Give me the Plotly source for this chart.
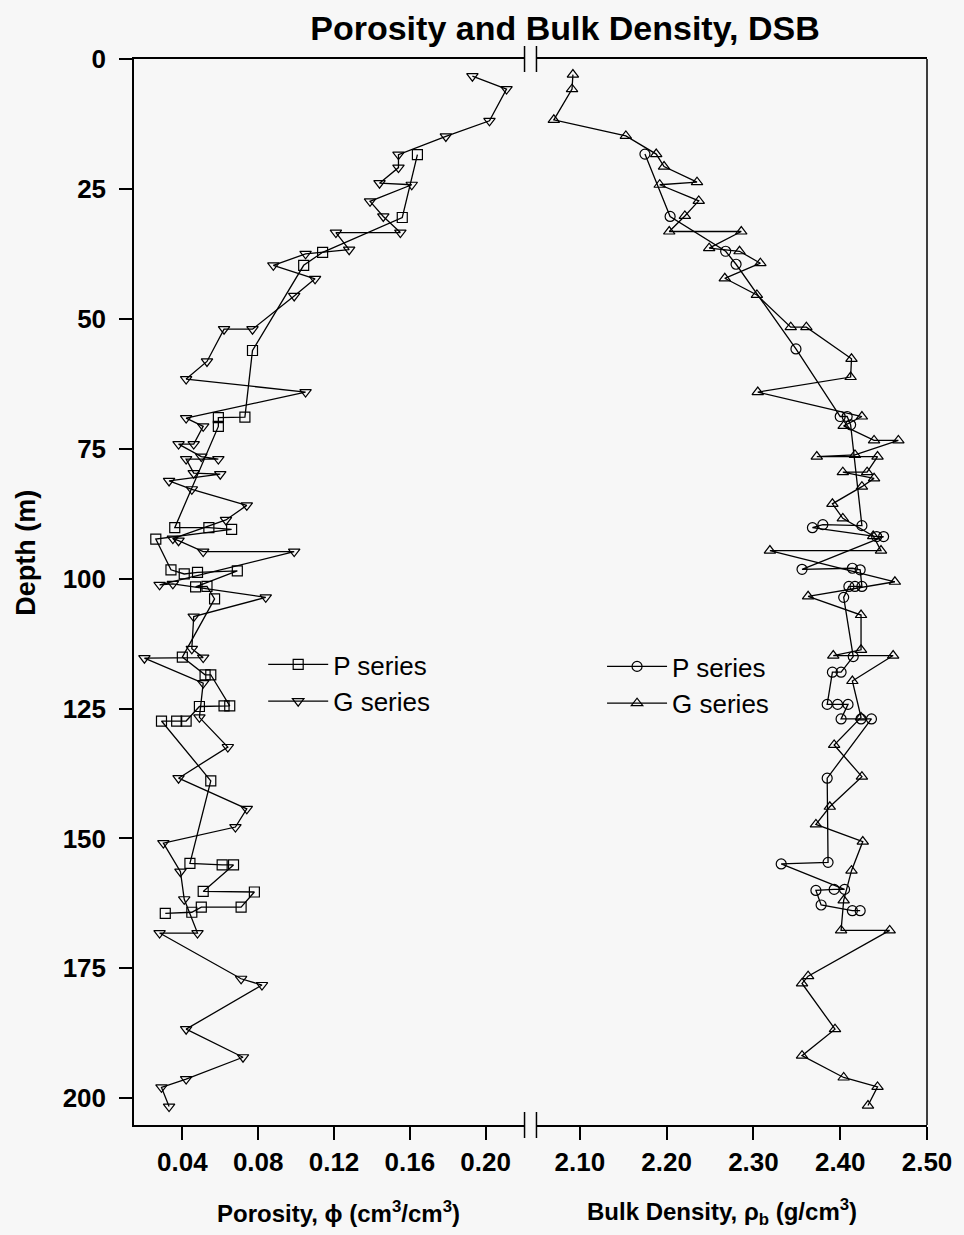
import plotly.graph_objects as go

# ---------------- data ----------------
# Porosity panel, P series
depth_phi_P = [18.4, 30.5, 37.2, 39.7, 56.1, 68.9, 69.0, 70.7, 90.2, 90.2, 90.5, 92.4,
               98.3, 99.1, 98.8, 98.5, 101.6, 101.5, 103.9, 115.1, 118.5, 118.5, 124.5,
               124.5, 124.6, 127.4, 127.4, 127.4, 138.9, 154.8, 155.1, 155.1, 160.2,
               160.3, 163.2, 163.2, 164.2, 164.4]
phi_P = [0.164, 0.156, 0.114, 0.104, 0.077, 0.073, 0.059, 0.059, 0.036, 0.054, 0.066, 0.026,
         0.034, 0.041, 0.048, 0.069, 0.047, 0.053, 0.057, 0.040, 0.052, 0.055, 0.065,
         0.062, 0.049, 0.042, 0.037, 0.029, 0.055, 0.044, 0.061, 0.067, 0.051,
         0.078, 0.071, 0.050, 0.045, 0.031]

# Porosity panel, G series
depth_phi_G = [3.3, 5.8, 11.9, 14.9, 18.4, 20.9, 23.9, 24.2, 27.4, 30.3, 33.4, 33.4, 36.7,
               37.5, 39.7, 42.3, 45.6, 52.0, 52.0, 58.2, 61.6, 64.1, 69.1, 70.7, 74.1,
               74.1, 76.5, 77.0, 77.0, 79.7, 79.9, 81.2, 82.8, 85.9, 88.7, 92.3, 92.7,
               94.8, 94.8, 101.2, 101.0, 103.6, 107.3, 113.5, 115.2, 115.3, 120.1, 126.7,
               132.4, 138.4, 144.3, 147.8, 150.9, 156.4, 161.7, 168.2, 168.2, 177.0,
               178.2, 186.7, 192.1, 196.3, 197.9, 201.6]
phi_G = [0.193, 0.211, 0.202, 0.179, 0.154, 0.154, 0.144, 0.161, 0.139, 0.146, 0.155, 0.121,
         0.128, 0.105, 0.088, 0.110, 0.099, 0.077, 0.062, 0.053, 0.042, 0.105, 0.042, 0.051,
         0.046, 0.038, 0.050, 0.059, 0.042, 0.046, 0.060, 0.033, 0.045, 0.074, 0.063, 0.035,
         0.038, 0.051, 0.099, 0.028, 0.035, 0.084, 0.046, 0.045, 0.051, 0.020, 0.051, 0.049,
         0.064, 0.038, 0.074, 0.068, 0.030, 0.039, 0.041, 0.048, 0.028, 0.071,
         0.082, 0.042, 0.072, 0.042, 0.029, 0.033]

# Bulk density panel, P series
depth_rho_P = [18.3, 30.3, 37.0, 39.5, 55.8, 68.8, 68.8, 70.4, 89.8, 89.6, 90.2, 91.9, 91.9,
               98.2, 98.0, 98.3, 101.5, 101.5, 101.5, 103.6, 115.0, 118.0, 118.0, 124.2,
               124.2, 124.2, 127.0, 127.0, 127.0, 138.4, 154.6, 154.9, 159.8, 159.8, 160.0,
               162.8, 163.9, 163.9]
rho_P = [2.175, 2.204, 2.268, 2.280, 2.349, 2.400, 2.408, 2.412, 2.425, 2.380, 2.368, 2.442, 2.450,
         2.356, 2.414, 2.423, 2.425, 2.417, 2.410, 2.404, 2.415, 2.401, 2.391, 2.385,
         2.397, 2.409, 2.401, 2.424, 2.436, 2.385, 2.386, 2.332, 2.405, 2.393, 2.372,
         2.378, 2.414, 2.423]

# Bulk density panel, G series
depth_rho_G = [3.0, 5.8, 11.7, 14.8, 18.3, 20.7, 23.7, 24.2, 27.3, 30.2, 33.2, 33.2, 36.4,
               37.0, 39.3, 42.2, 45.4, 51.6, 51.6, 57.7, 61.2, 64.1, 68.8, 70.6, 73.4, 73.4,
               76.2, 76.5, 76.5, 79.5, 79.5, 80.7, 82.3, 85.6, 88.4, 91.8, 94.6, 94.6, 100.6,
               103.4, 107.0, 113.7, 114.8, 114.8, 119.7, 126.7, 132.0, 138.1, 143.9, 147.3,
               150.6, 156.2, 161.9, 167.7, 167.7, 176.5, 177.9, 186.7, 191.8, 196.0, 197.8,
               201.4]
rho_G = [2.092, 2.091, 2.070, 2.153, 2.188, 2.197, 2.235, 2.192, 2.237, 2.221, 2.203, 2.286, 2.249,
         2.284, 2.308, 2.267, 2.304, 2.343, 2.361, 2.413, 2.412, 2.305, 2.425, 2.404, 2.439, 2.467,
         2.417, 2.373, 2.443, 2.431, 2.403, 2.439, 2.425, 2.391, 2.403, 2.438, 2.447, 2.319, 2.463,
         2.363, 2.424, 2.424, 2.392, 2.461, 2.414, 2.424, 2.393, 2.425, 2.388, 2.372,
         2.426, 2.413, 2.404, 2.401, 2.457, 2.363, 2.356, 2.394, 2.356, 2.404, 2.443,
         2.432]

phi_ticks = [0.04, 0.08, 0.12, 0.16, 0.20]
rho_ticks = [2.10, 2.20, 2.30, 2.40, 2.50]
depth_ticks = [0, 25, 50, 75, 100, 125, 150, 175, 200]

# ---------------- figure ----------------
FONT = "Liberation Sans, Arial, sans-serif"
BG = "#f7f7f7"
W, H = 964, 1235
L, R, T, B = 134, 32, 59, 110
pw, ph = W - L - R, H - T - B


def px_x(p):
    return (p - L) / pw


def px_y(p):
    return 1 - (p - T) / ph


line = dict(color="black", width=1.3)


def mk(sym):
    return dict(symbol=sym, size=10, color="black", line=dict(color="black", width=1.2))


fig = go.Figure()
fig.add_trace(go.Scatter(x=phi_P, y=depth_phi_P, mode="lines+markers", name="P series",
                         line=line, marker=mk("square-open"), xaxis="x", yaxis="y",
                         legend="legend"))
fig.add_trace(go.Scatter(x=phi_G, y=depth_phi_G, mode="lines+markers", name="G series",
                         line=line, marker=mk("triangle-down-open"), xaxis="x", yaxis="y",
                         legend="legend"))
fig.add_trace(go.Scatter(x=rho_P, y=depth_rho_P, mode="lines+markers", name="P series",
                         line=line, marker=mk("circle-open"), xaxis="x2", yaxis="y",
                         legend="legend2"))
fig.add_trace(go.Scatter(x=rho_G, y=depth_rho_G, mode="lines+markers", name="G series",
                         line=line, marker=mk("triangle-up-open"), xaxis="x2", yaxis="y",
                         legend="legend2"))

tickfont = dict(family=FONT, size=26, color="black", weight="bold")
axcommon = dict(showgrid=False, zeroline=False, showline=True, linecolor="black", linewidth=1.5,
                ticks="outside", ticklen=13, tickwidth=1.5, tickcolor="black", tickfont=tickfont)

fig.update_layout(
    width=W, height=H,
    margin=dict(l=L, r=R, t=T, b=B),
    paper_bgcolor=BG, plot_bgcolor=BG,
    font=dict(family=FONT, color="black"),
    title=dict(text="<b>Porosity and Bulk Density, DSB</b>", x=565 / W, xref="container",
               xanchor="center", y=1 - 28 / H, yref="container", yanchor="middle",
               font=dict(family=FONT, size=34, color="black")),
    xaxis=dict(domain=[0, px_x(527)], range=[0.0145, 0.2205], tickvals=phi_ticks,
               tickformat=".2f", mirror=True, anchor="y", ticklabelstandoff=0, **axcommon),
    xaxis2=dict(domain=[px_x(539), 1], range=[2.05, 2.50], tickvals=rho_ticks,
                tickformat=".2f", mirror=True, anchor="y", ticklabelstandoff=0, **axcommon),
    yaxis=dict(domain=[0, 1], range=[205.14, 0], tickvals=depth_ticks, anchor="x",
               ticklabelstandoff=8, **axcommon),
    legend=dict(x=px_x(264), y=px_y(641), xanchor="left", yanchor="top",
                bgcolor="rgba(0,0,0,0)", itemwidth=60,
                font=dict(family=FONT, size=26, color="black")),
    legend2=dict(x=px_x(605), y=px_y(643), xanchor="left", yanchor="top",
                 bgcolor="rgba(0,0,0,0)", itemwidth=60,
                 font=dict(family=FONT, size=26, color="black")),
)

# frame: right border
shapes = [dict(type="line", xref="paper", yref="paper", x0=1, x1=1, y0=0, y1=1,
               line=dict(color="black", width=1.5))]
# axis-break marks at top and bottom
bk = 13 / ph
for xp in (527, 539):
    for yc in (0, 1):
        shapes.append(dict(type="line", xref="paper", yref="paper", x0=px_x(xp), x1=px_x(xp),
                           y0=yc - bk, y1=yc + bk, line=dict(color="black", width=1.5)))
fig.update_layout(shapes=shapes)

titlefont = dict(family=FONT, size=24, color="black", weight="bold")
fig.add_annotation(text="Porosity, ϕ (cm<sup>3</sup>/cm<sup>3</sup>)", xref="paper", yref="paper",
                   x=px_x(340), y=px_y(1212), showarrow=False, font=titlefont,
                   xanchor="center", yanchor="middle")
fig.add_annotation(text="Bulk Density, ρ<sub>b</sub> (g/cm<sup>3</sup>)", xref="paper", yref="paper",
                   x=px_x(726), y=px_y(1212), showarrow=False, font=titlefont,
                   xanchor="center", yanchor="middle")
fig.add_annotation(text="Depth (m)", xref="paper", yref="paper", textangle=-90,
                   x=px_x(25), y=px_y(553), showarrow=False,
                   font=dict(family=FONT, size=27, color="black", weight="bold"),
                   xanchor="center", yanchor="middle")

fig.write_html("out.html")
